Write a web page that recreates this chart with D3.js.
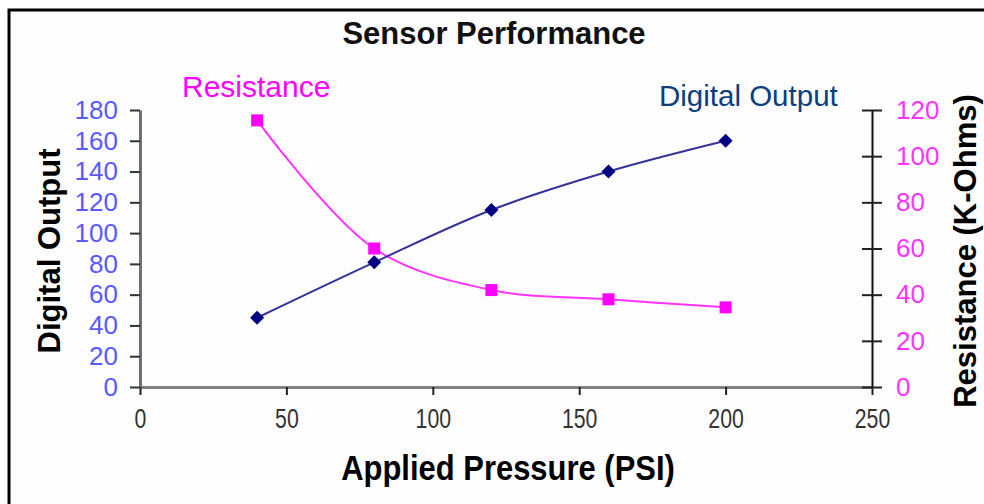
<!DOCTYPE html>
<html>
<head>
<style>
  body { margin: 0; background: #fff; }
  svg { display: block; font-family: Arial, "Liberation Sans", sans-serif; }
</style>
</head>
<body>

<script src="https://d3js.org/d3.v7.min.js"></script>

<script>

const width = 984;
const height = 504;

// data
const pressure = [40, 80, 120, 160, 200];
const digitalOutput = [45, 81, 115, 140, 160];
const resistance = [115.5, 60, 42, 38, 34.5];

const xTicks = [0, 50, 100, 150, 200, 250];
const leftTicks = [0, 20, 40, 60, 80, 100, 120, 140, 160, 180];
const rightTicks = [0, 20, 40, 60, 80, 100, 120];

const svg = d3.select('body')
              .append('svg')
              .attr('width', width)
              .attr('height', height);

// outer frame (right and bottom run past the picture)
svg.append('rect')
   .attr('x', 9).attr('y', 10)
   .attr('width', 1000).attr('height', 600)
   .attr('fill', '#fdfdfd')
   .attr('stroke', '#000')
   .attr('stroke-width', 3);

const x = d3.scaleLinear().domain([0, 250]).range([140, 872]);
const yLeft = d3.scaleLinear().domain([0, 180]).range([387, 110]);
const yRight = d3.scaleLinear().domain([0, 120]).range([387, 110]);

// axes
const xAxis = svg.append('g')
  .attr('transform', `translate(0,${yLeft(0)})`)
  .call(d3.axisBottom(x).tickValues(xTicks).tickSize(8).tickSizeOuter(0));
xAxis.select('.domain').attr('stroke', '#808080').attr('stroke-width', 3);
xAxis.selectAll('.tick line').attr('stroke', '#222').attr('stroke-width', 2);
xAxis.selectAll('.tick text')
  .attr('y', 21)
  .attr('transform', 'scale(0.76,1)')
  .attr('fill', '#333')
  .style('font-size', '28px');

const leftAxis = svg.append('g')
  .attr('transform', `translate(${x(0)},0)`)
  .call(d3.axisLeft(yLeft).tickValues(leftTicks).tickSize(10).tickSizeOuter(0).tickPadding(12));
leftAxis.select('.domain').attr('stroke', '#707070').attr('stroke-width', 3);
leftAxis.selectAll('.tick line').attr('stroke', '#333').attr('stroke-width', 2);
leftAxis.selectAll('.tick text')
  .attr('fill', '#5a5aff')
  .style('font-size', '26px');

const rightAxis = svg.append('g')
  .attr('transform', `translate(${x(250)},0)`)
  .call(d3.axisRight(yRight).tickValues(rightTicks).tickSize(10).tickSizeOuter(0).tickPadding(10));
rightAxis.select('.domain').attr('stroke', '#111').attr('stroke-width', 2);
rightAxis.selectAll('.tick line')
  .attr('x1', -10)
  .attr('stroke', '#222').attr('stroke-width', 2);
rightAxis.selectAll('.tick text')
  .attr('x', 24)
  .attr('fill', '#ff33ff')
  .style('font-size', '26px');

svg.selectAll('.tick text').attr('font-family', null);

// curves
const pts = (ys, yScale) => pressure.map((p, i) => [x(p), yScale(ys[i])]);
const line = d3.line().curve(d3.curveCatmullRom.alpha(0.5));

svg.append('path')
   .attr('d', line(pts(resistance, yRight)))
   .attr('fill', 'none')
   .attr('stroke', '#ff33ff')
   .attr('stroke-width', 2);

svg.append('path')
   .attr('d', line(pts(digitalOutput, yLeft)))
   .attr('fill', 'none')
   .attr('stroke', '#33339a')
   .attr('stroke-width', 2);

svg.selectAll('.res')
  .data(pts(resistance, yRight))
  .enter()
  .append('rect')
    .attr('x', d => d[0] - 6)
    .attr('y', d => d[1] - 6)
    .attr('width', 12)
    .attr('height', 12)
    .attr('fill', '#ff00ff');

svg.selectAll('.dig')
  .data(pts(digitalOutput, yLeft))
  .enter()
  .append('path')
    .attr('transform', d => `translate(${d[0]},${d[1]})`)
    .attr('d', 'M0,-7L7,0L0,7L-7,0Z')
    .attr('fill', '#000080');

// text
svg.append('text')
   .attr('x', 494).attr('y', 44)
   .attr('text-anchor', 'middle')
   .style('font-size', '31px')
   .style('font-weight', 'bold')
   .attr('fill', '#111')
   .text('Sensor Performance');

svg.append('text')
   .attr('x', 182).attr('y', 97)
   .style('font-size', '30px')
   .attr('fill', '#ff00ff')
   .text('Resistance');

svg.append('text')
   .attr('x', 659).attr('y', 106)
   .style('font-size', '29.5px')
   .attr('fill', '#0a4080')
   .text('Digital Output');

svg.append('text')
   .attr('transform', 'translate(60,251) rotate(-90)')
   .attr('text-anchor', 'middle')
   .style('font-size', '31px')
   .style('font-weight', 'bold')
   .text('Digital Output');

svg.append('text')
   .attr('transform', 'translate(976,251) rotate(-90)')
   .attr('text-anchor', 'middle')
   .style('font-size', '31px')
   .style('font-weight', 'bold')
   .text('Resistance (K-Ohms)');

svg.append('text')
   .attr('transform', 'translate(508,480) scale(0.86,1)')
   .attr('text-anchor', 'middle')
   .style('font-size', '36px')
   .style('font-weight', 'bold')
   .text('Applied Pressure (PSI)');

</script>
</body>
</html>
